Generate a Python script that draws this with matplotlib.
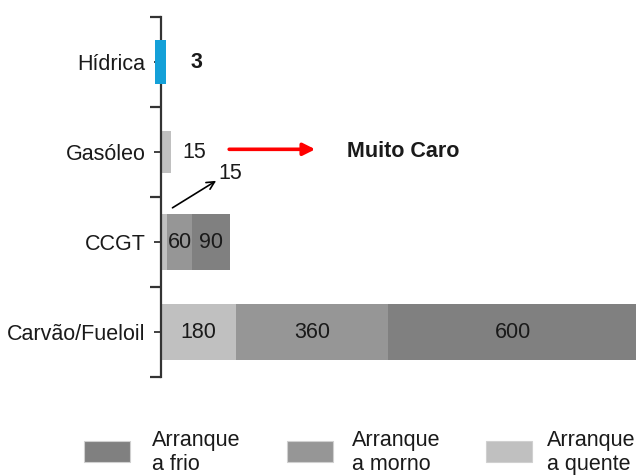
import matplotlib
matplotlib.use('Agg')
import matplotlib.pyplot as plt
from matplotlib.patches import Rectangle

plt.rcParams['font.family'] = ['Liberation Sans', 'DejaVu Sans']

# bottom to top
categories = ['Carvão/Fueloil', 'CCGT', 'Gasóleo', 'Hídrica']
quente = [180, 15, 15, 3]
morno = [360, 60, 0, 0]
frio = [600, 90, 0, 0]

legend_labels = ['Arranque\na frio', 'Arranque\na morno', 'Arranque\na quente']

c_frio = '#808080'
c_morno = '#969696'
c_quente = '#c0c0c0'
c_hidrica = '#14a0d8'
txt = '#1a1a1a'
fs = 15.5

W, H = 636, 475


def fpx(x, y):
    # pixel position -> figure fraction
    return x / W, 1 - y / H


fig = plt.figure(figsize=(W / 100, H / 100), dpi=100)
ax = fig.add_axes([0.2362, 0.2063, 0.7638, 0.7579])

# stacked start-up times (Carvão, CCGT)
for i in range(2):
    segs = [(quente[i], c_quente), (morno[i], c_morno), (frio[i], c_frio)]
    left = 0
    for j, (v, c) in enumerate(segs):
        ax.barh(i, v, left=left, height=0.63, color=c, edgecolor='none')
        if v >= 40:
            ax.text(left + v / 2, i, str(v), ha='center', va='center',
                    fontsize=fs, color=txt)
        left += v

# small bars are drawn wider than scale so they stay visible
min_w = 25
w = max(quente[2], min_w)
ax.barh(2, w, left=0, height=0.46, color=c_quente, edgecolor='none')
ax.text(80, 2, str(quente[2]), ha='center', va='center', fontsize=fs, color=txt)

w = max(quente[3], min_w)
ax.barh(3, w, left=-w / 2, height=0.48, color=c_hidrica, edgecolor='none', zorder=3)
ax.text(84, 3, str(quente[3]), ha='center', va='center', fontsize=fs,
        fontweight='bold', color=txt)

# annotations
ax.annotate('', xy=(368, 2.03), xytext=(163, 2.03),
            arrowprops=dict(arrowstyle='-|>', color='#ff0000', lw=2.6,
                            mutation_scale=18, shrinkA=0, shrinkB=0))
ax.text(443, 2.01, 'Muito Caro', ha='left', va='center', fontsize=fs,
        fontweight='bold', color=txt)

ax.annotate('', xy=(132, 1.68), xytext=(28, 1.38),
            arrowprops=dict(arrowstyle='->', color='black', lw=1.2,
                            mutation_scale=14, shrinkA=0, shrinkB=0))
ax.text(165, 1.76, str(quente[1]), ha='center', va='center', fontsize=fs, color=txt)

ax.set_xlim(-25, 1131.7)
ax.set_ylim(-0.5, 3.5)

for s in ['top', 'right', 'bottom']:
    ax.spines[s].set_visible(False)
ax.spines['left'].set_position(('data', 0))
ax.spines['left'].set_linewidth(1.6)
ax.spines['left'].set_color('#333333')
ax.spines['left'].set_zorder(2)

ax.set_xticks([])
ax.set_yticks(range(len(categories)))
ax.set_yticklabels(categories, fontsize=fs, color=txt)
ax.set_yticks([-0.5, 0.5, 1.5, 2.5, 3.5], minor=True)
ax.tick_params(axis='y', which='major', length=5, width=1.3, color='#333333', pad=6)
ax.tick_params(axis='y', which='minor', length=8, width=1.6, color='#333333')

# legend drawn by hand, in the order of the original
leg_colors = [c_frio, c_morno, c_quente]
patch_x = [84, 287, 486]
text_x = [152, 352, 547]
for c, px, tx, lab in zip(leg_colors, patch_x, text_x, legend_labels):
    x0, y0 = fpx(px, 462)
    fig.add_artist(Rectangle((x0, y0), 46 / W, 21 / H, transform=fig.transFigure,
                             facecolor=c, edgecolor='#d0d0d0', lw=0.8))
    x, y = fpx(tx, 430)
    fig.text(x, y, lab, ha='left', va='top', fontsize=fs, color=txt,
             linespacing=1.2)

fig.savefig('out.png', dpi=100)
